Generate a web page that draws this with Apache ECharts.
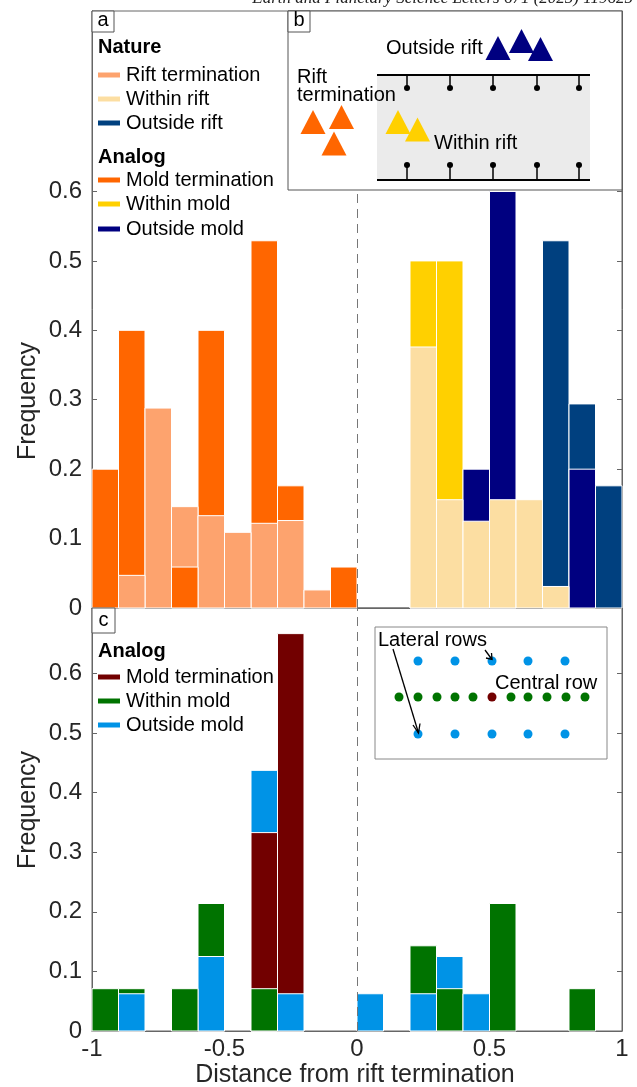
<!DOCTYPE html>
<html>
<head>
<meta charset="utf-8">
<title>Distance from rift termination</title>
<script src="https://cdn.jsdelivr.net/npm/echarts@6/dist/echarts.min.js"></script>
<style>
  html, body { margin: 0; padding: 0; background: #fff; }
  #main { width: 637px; height: 1087px; }
</style>
</head>
<body>
<div id="main"></div>
<script>
// histogram bins: start of each 0.1 wide bin
var binStarts = [-1, -0.9, -0.8, -0.7, -0.6, -0.5, -0.4, -0.3, -0.2, -0.1,
                 0, 0.1, 0.2, 0.3, 0.4, 0.5, 0.6, 0.7, 0.8, 0.9];
var BIN = 0.1;

// panel a, nature
var riftTermination = [0, 0.047, 0.288, 0.146, 0.133, 0.109, 0.122, 0.126, 0.026, 0,
                       0, 0, 0, 0, 0, 0, 0, 0, 0, 0];
var withinRift      = [0, 0, 0, 0, 0, 0, 0, 0, 0, 0,
                       0, 0, 0.376, 0.156, 0.125, 0.156, 0.156, 0.031, 0, 0];
var outsideRift     = [0, 0, 0, 0, 0, 0, 0, 0, 0, 0,
                       0, 0, 0, 0, 0, 0, 0, 0.529, 0.294, 0.176];
// panel a, analog
var moldTermination = [0.2, 0.4, 0, 0.059, 0.4, 0, 0.529, 0.176, 0, 0.059,
                       0, 0, 0, 0, 0, 0, 0, 0, 0, 0];
var withinMold      = [0, 0, 0, 0, 0, 0, 0, 0, 0, 0,
                       0, 0, 0.5, 0.5, 0, 0, 0, 0, 0, 0];
var outsideMold     = [0, 0, 0, 0, 0, 0, 0, 0, 0, 0,
                       0, 0, 0, 0, 0.2, 0.6, 0, 0, 0.2, 0];
// panel c, analog
var cMoldTermination = [0, 0, 0, 0, 0, 0, 0.333, 0.667, 0, 0,
                        0, 0, 0, 0, 0, 0, 0, 0, 0, 0];
var cWithinMold      = [0.071, 0.071, 0, 0.071, 0.214, 0, 0.071, 0, 0, 0,
                        0, 0, 0.143, 0.071, 0, 0.214, 0, 0, 0.071, 0];
var cOutsideMold     = [0, 0.0625, 0, 0, 0.125, 0, 0.4375, 0.0625, 0, 0,
                        0.0625, 0, 0.0625, 0.125, 0.0625, 0, 0, 0, 0, 0];

var xTicks = [-1, -0.5, 0, 0.5, 1];
var yTicks = [0, 0.1, 0.2, 0.3, 0.4, 0.5, 0.6];

var FONT = '"Liberation Sans", Arial, Helvetica, sans-serif';
var AXIS = '#666';
var TXT = '#262626';

var colors = {
  riftTermination: '#FDA36E', withinRift: '#FCDEA2', outsideRift: '#00407F',
  moldTermination: '#FF6600', withinMold: '#FFD000', outsideMold: '#000080',
  cMold: '#720000', cWithin: '#007300', cOutside: '#0093E6'
};

// one histogram layer; shorter bars are drawn in front of taller ones
function histSeries(name, values, color, grid) {
  return {
    type: 'custom',
    name: name,
    xAxisIndex: grid,
    yAxisIndex: grid * 2,
    itemStyle: { color: color },
    data: binStarts.map(function (b, i) { return [b, values[i]]; })
                   .filter(function (d) { return d[1] > 0; }),
    renderItem: function (params, api) {
      var x0 = api.value(0), v = api.value(1);
      var p0 = api.coord([x0, 0]);
      var p1 = api.coord([x0 + BIN, v]);
      return {
        type: 'rect',
        z2: Math.round((1 - v) * 1000),
        shape: { x: p0[0], y: p1[1], width: p1[0] - p0[0], height: p0[1] - p1[1] },
        style: { fill: color, stroke: '#fff', lineWidth: 1 }
      };
    }
  };
}

// dashed line at x = 0
function zeroLine(grid) {
  return {
    type: 'line', xAxisIndex: grid, yAxisIndex: grid * 2, data: [],
    markLine: {
      silent: true, symbol: 'none', label: { show: false },
      lineStyle: { type: [9, 6], color: '#777', width: 1 },
      data: [{ xAxis: 0 }]
    }
  };
}

function xAxisFor(grid, showLabels) {
  return {
    gridIndex: grid, type: 'value', min: -1, max: 1,
    axisLine: { show: true, onZero: false, lineStyle: { color: AXIS } },
    axisTick: { show: true, inside: true, length: 5, customValues: xTicks, lineStyle: { color: AXIS } },
    axisLabel: { show: showLabels, customValues: xTicks, fontSize: 24, fontFamily: FONT, color: TXT, margin: 6 },
    splitLine: { show: false }
  };
}

function yAxisFor(grid, max, side) {
  return {
    gridIndex: grid, type: 'value', min: 0, max: max, position: side,
    axisLine: { show: true, onZero: false, lineStyle: { color: AXIS } },
    axisTick: { show: true, inside: true, length: 5, customValues: yTicks, lineStyle: { color: AXIS } },
    axisLabel: { show: side === 'left', customValues: yTicks, fontSize: 24, fontFamily: FONT, color: TXT, margin: 10 },
    splitLine: { show: false }
  };
}

// ---- annotation helpers
function txt(s, x, y, size, opts) {
  opts = opts || {};
  return {
    type: 'text', x: x, y: y, z: 100, rotation: opts.rotation || 0,
    style: {
      text: s, fill: opts.fill || '#111',
      font: (opts.style || '') + ' ' + (opts.weight || 'normal') + ' ' + size + 'px ' + (opts.family || FONT),
      align: opts.align || 'left', textAlign: opts.align || 'left',
      verticalAlign: 'middle', textVerticalAlign: 'middle'
    }
  };
}
function box(x, y, w, h, stroke, fill) {
  return { type: 'rect', z: 100, shape: { x: x, y: y, width: w, height: h },
           style: { fill: fill || '#fff', stroke: stroke || '#555', lineWidth: 1 } };
}
function line(points, color, width) {
  return { type: 'polyline', z: 101, shape: { points: points },
           style: { stroke: color || '#000', lineWidth: width || 1, fill: null } };
}
function dot(cx, cy, r, color) {
  return { type: 'circle', z: 101, shape: { cx: cx, cy: cy, r: r }, style: { fill: color } };
}
function tri(cx, top, color) {
  return { type: 'polygon', z: 101, shape: { points: [[cx, top], [cx - 12.5, top + 24], [cx + 12.5, top + 24]] },
           style: { fill: color } };
}
function legendBlock(x, titleY, title, itemYs, names, cols) {
  var els = [txt(title, x, titleY, 20, { weight: 'bold', fill: '#000' })];
  names.forEach(function (n, i) {
    els.push({ type: 'rect', z: 100, shape: { x: x, y: itemYs[i] - 2.5, width: 22, height: 5 },
               style: { fill: cols[i] } });
    els.push(txt(n, x + 28, itemYs[i], 20, { fill: '#000' }));
  });
  return els;
}

var graphics = [];
// journal header, cut at the top of the page
graphics.push(txt('Earth and Planetary Science Letters 671 (2025) 119625', 633, -1, 17,
  { style: 'italic', family: '"Liberation Serif", "Times New Roman", serif', align: 'right', fill: '#222' }));

// panel a legend
graphics.push(box(92, 11, 22, 21), txt('a', 103, 20.5, 20, { align: 'center', fill: '#000' }));
graphics = graphics.concat(
  legendBlock(98, 47, 'Nature', [75, 99, 123], ['Rift termination', 'Within rift', 'Outside rift'],
              [colors.riftTermination, colors.withinRift, colors.outsideRift]),
  legendBlock(98, 157, 'Analog', [180, 204, 229], ['Mold termination', 'Within mold', 'Outside mold'],
              [colors.moldTermination, colors.withinMold, colors.outsideMold]));

// panel b sketch
graphics.push(box(288, 11, 334, 179));
graphics.push(box(288, 11, 22, 21), txt('b', 299, 20.5, 20, { align: 'center', fill: '#000' }));
graphics.push({ type: 'rect', z: 100, shape: { x: 377, y: 75, width: 213, height: 105 }, style: { fill: '#EBEBEB' } });
graphics.push(line([[377, 75], [590, 75]], '#000', 2), line([[377, 180], [590, 180]], '#000', 2));
[407, 450, 493, 537, 579].forEach(function (x) {
  graphics.push(line([[x, 75], [x, 88]], '#000', 1.5), dot(x, 88, 3, '#000'));
  graphics.push(line([[x, 165], [x, 180]], '#000', 1.5), dot(x, 165, 3, '#000'));
});
graphics.push(txt('Outside rift', 386, 48, 20, { fill: '#000' }));
graphics.push(tri(498, 36, colors.outsideMold), tri(521.5, 29, colors.outsideMold), tri(540.5, 37, colors.outsideMold));
graphics.push(txt('Rift', 297, 77, 20, { fill: '#000' }), txt('termination', 297, 95, 20, { fill: '#000' }));
graphics.push(tri(313, 110, colors.moldTermination), tri(341.5, 105, colors.moldTermination), tri(334, 131.5, colors.moldTermination));
graphics.push(tri(398, 110, colors.withinMold), tri(417.5, 117.5, colors.withinMold));
graphics.push(txt('Within rift', 434, 143, 20, { fill: '#000' }));

// panel c legend
graphics.push(box(92, 608, 23, 25), txt('c', 103.5, 620.5, 20, { align: 'center', fill: '#000' }));
graphics = graphics.concat(
  legendBlock(98, 651, 'Analog', [677, 701, 725], ['Mold termination', 'Within mold', 'Outside mold'],
              [colors.cMold, colors.cWithin, colors.cOutside]));

// panel c sketch
graphics.push(box(375, 627, 232, 132, '#888'));
[418, 455, 492, 528, 565].forEach(function (x) {
  graphics.push(dot(x, 661, 4.5, colors.cOutside), dot(x, 734, 4.5, colors.cOutside));
});
[399, 418, 437, 455, 473, 492, 511, 528, 547, 566, 585].forEach(function (x, i) {
  graphics.push(dot(x, 697, 4.5, i === 5 ? colors.cMold : colors.cWithin));
});
graphics.push(txt('Lateral rows', 378, 640, 20, { fill: '#000' }), txt('Central row', 495, 683, 20, { fill: '#000' }));
graphics.push(line([[393, 649], [418.5, 733]], '#000', 1.3),
              line([[413, 725], [418.5, 733], [420, 723.5]], '#000', 1.3));
graphics.push(line([[485, 650], [492, 659.5]], '#000', 1.3),
              line([[486, 658], [492, 659.5], [491.5, 653]], '#000', 1.3));

// axis titles
graphics.push(txt('Frequency', 28, 401, 25, { rotation: Math.PI / 2, align: 'center', fill: TXT }));
graphics.push(txt('Frequency', 28, 810, 25, { rotation: Math.PI / 2, align: 'center', fill: TXT }));
graphics.push(txt('Distance from rift termination', 355, 1075, 25, { align: 'center', fill: TXT }));

var myChart = echarts.init(document.getElementById('main'), null, { renderer: 'canvas' });
var option = {
  animation: false,
  backgroundColor: '#fff',
  textStyle: { fontFamily: FONT },
  grid: [
    { left: 92, right: 15, top: 11, height: 597, show: true, borderColor: AXIS, borderWidth: 1 },
    { left: 92, right: 15, top: 608, height: 423, show: true, borderColor: AXIS, borderWidth: 1 }
  ],
  xAxis: [xAxisFor(0, false), xAxisFor(1, true)],
  yAxis: [yAxisFor(0, 0.86, 'left'), yAxisFor(0, 0.86, 'right'),
          yAxisFor(1, 0.71, 'left'), yAxisFor(1, 0.71, 'right')],
  series: [
    zeroLine(0),
    histSeries('Rift termination', riftTermination, colors.riftTermination, 0),
    histSeries('Within rift', withinRift, colors.withinRift, 0),
    histSeries('Outside rift', outsideRift, colors.outsideRift, 0),
    histSeries('Mold termination', moldTermination, colors.moldTermination, 0),
    histSeries('Within mold', withinMold, colors.withinMold, 0),
    histSeries('Outside mold', outsideMold, colors.outsideMold, 0),
    zeroLine(1),
    histSeries('Mold termination (c)', cMoldTermination, colors.cMold, 1),
    histSeries('Within mold (c)', cWithinMold, colors.cWithin, 1),
    histSeries('Outside mold (c)', cOutsideMold, colors.cOutside, 1)
  ],
  graphic: { elements: graphics }
};
myChart.setOption(option);
</script>
</body>
</html>
